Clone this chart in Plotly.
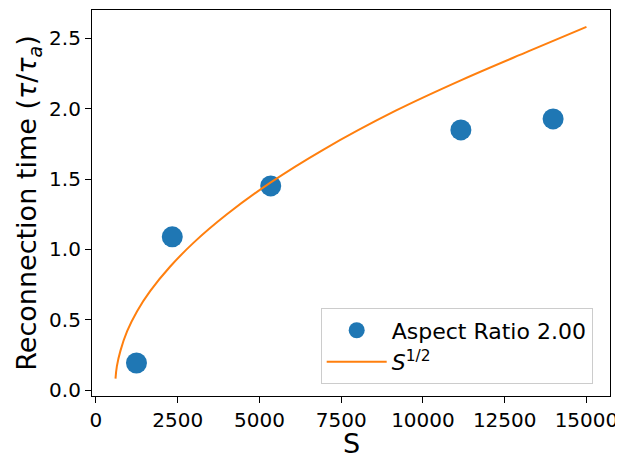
import plotly.graph_objects as go

# Data points (Aspect Ratio 2.00)
s_points = [1240, 2335, 5345, 11160, 13980]
tau_points = [0.194, 1.090, 1.451, 1.849, 1.927]

# S^{1/2} reference curve
s_curve = [599, 640, 751, 955, 1259, 1663, 2272, 2981, 3996, 5313, 6934, 9166, 11191, 13219, 15000]
tau_curve = [0.083, 0.170, 0.282, 0.420, 0.562, 0.706, 0.879, 1.047, 1.248, 1.471, 1.706, 1.985, 2.204, 2.406, 2.580]

x_ticks = [0, 2500, 5000, 7500, 10000, 12500, 15000]
y_ticks = [0.0, 0.5, 1.0, 1.5, 2.0, 2.5]

FONT = "DejaVu Sans"

fig = go.Figure()
fig.add_trace(go.Scatter(
    x=s_points, y=tau_points, mode="markers", name="Aspect Ratio 2.00",
    marker=dict(color="#1f77b4", size=21, line=dict(width=0)),
))
fig.add_trace(go.Scatter(
    x=s_curve, y=tau_curve, mode="lines", name="<i>S</i><sup>1/2</sup>",
    line=dict(color="#ff7f0e", width=2, shape="spline", smoothing=1.0),
))

axis_common = dict(
    showline=True, linecolor="black", linewidth=1.2, mirror=True,
    ticks="outside", ticklen=6, tickwidth=1.2, tickcolor="black",
    showgrid=False, zeroline=False, automargin=False,
    tickfont=dict(family=FONT, size=20, color="black"),
)

# The page body adds an 8px offset, so the figure is sized to fit the window.
fig.update_layout(
    width=615, height=446,
    margin=dict(l=84, r=13, t=2, b=58),
    paper_bgcolor="white", plot_bgcolor="white",
    font=dict(family=FONT, color="black"),
    xaxis=dict(range=[-120, 15720], tickvals=x_ticks,
               ticktext=[str(v) for v in x_ticks],
               **axis_common),
    yaxis=dict(range=[-0.04, 2.70], tickvals=y_ticks,
               ticktext=[f"{v:.1f}" for v in y_ticks],
               title=dict(text="Reconnection time (<i>τ</i>/<i>τ</i><sub><i>a</i></sub>)",
                          font=dict(family=FONT, size=27), standoff=4),
               **axis_common),
    legend=dict(
        x=0.4415, y=0.03, xanchor="left", yanchor="bottom",
        bgcolor="rgba(255,255,255,0.8)", bordercolor="#cccccc", borderwidth=1,
        font=dict(family=FONT, size=22, color="black"),
        itemwidth=60, tracegroupgap=0,
    ),
    showlegend=True,
    annotations=[dict(
        text="S", xref="paper", yref="paper", x=0.5, y=-0.122,
        xanchor="center", yanchor="middle", showarrow=False,
        font=dict(family=FONT, size=27, color="black"),
    )],
)

fig.write_html("out.html")
